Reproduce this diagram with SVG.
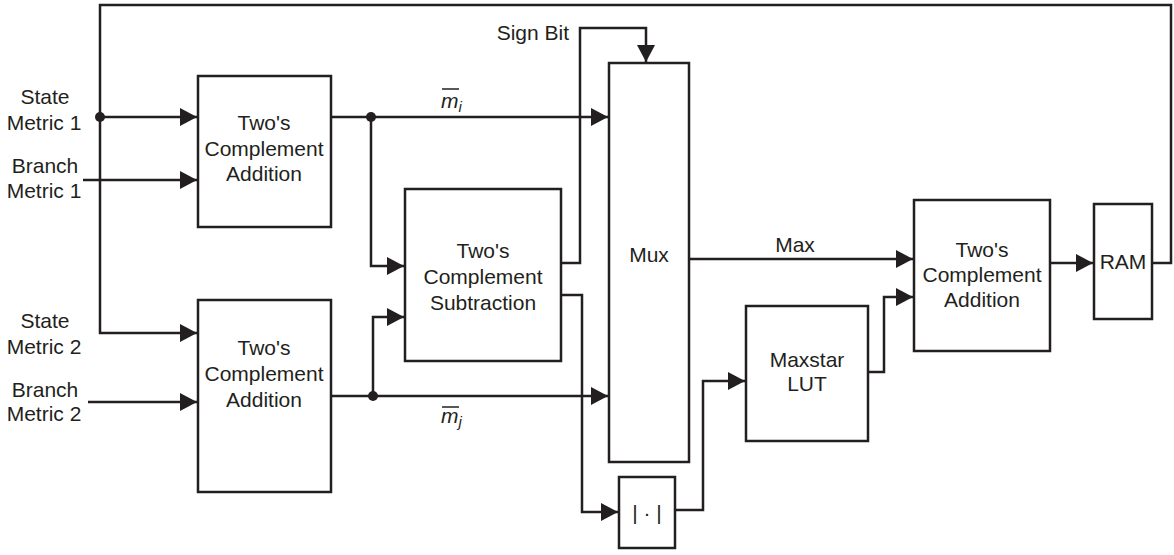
<svg xmlns="http://www.w3.org/2000/svg" width="1174" height="555" viewBox="0 0 1174 555">
<defs>
<style>
.box{fill:#fff;stroke:#231f20;stroke-width:2.5}
.w{fill:none;stroke:#231f20;stroke-width:2.5}
.arr{marker-end:url(#ah)}
text{font-family:"Liberation Sans",Arial,sans-serif;font-size:21px;fill:#231f20}
.c{text-anchor:middle}
.it{font-style:italic}
</style>
<marker id="ah" markerUnits="userSpaceOnUse" markerWidth="17" markerHeight="18" refX="17" refY="9" orient="auto">
<path d="M0,0 L17,9 L0,18 z" fill="#231f20"/>
</marker>
</defs>
<rect width="1174" height="555" fill="#fff"/>
<g id="connectors">
<polyline class="w" points="1152,263 1171,263 1171,5 100,5 100,333 197,333" marker-end="url(#ah)"/>
<line class="w arr" x1="100" y1="117" x2="197" y2="117"/>
<line class="w arr" x1="83" y1="180" x2="197" y2="180"/>
<line class="w arr" x1="88" y1="402" x2="197" y2="402"/>
<line class="w arr" x1="331" y1="117" x2="608" y2="117"/>
<polyline class="w arr" points="371,117 371,266 404,266"/>
<line class="w arr" x1="331" y1="396" x2="608" y2="396"/>
<polyline class="w arr" points="373,396 373,317 404,317"/>
<polyline class="w arr" points="561,263 580,263 580,28 646,28 646,62"/>
<polyline class="w arr" points="561,295 582,295 582,512 618,512"/>
<polyline class="w arr" points="675,510 703,510 703,381 745,381"/>
<line class="w arr" x1="689" y1="259" x2="913" y2="259"/>
<polyline class="w arr" points="868,372 884,372 884,297 913,297"/>
<line class="w arr" x1="1050" y1="263" x2="1093" y2="263"/>
<circle cx="100" cy="117" r="5" fill="#231f20"/>
<circle cx="371" cy="117" r="5" fill="#231f20"/>
<circle cx="373" cy="396" r="5" fill="#231f20"/>
</g>
<g id="labels">
<text class="c" x="45" y="104">State</text>
<text class="c" x="44" y="130">Metric 1</text>
<text class="c" x="45" y="173">Branch</text>
<text class="c" x="44" y="198">Metric 1</text>
<text class="c" x="45" y="328">State</text>
<text class="c" x="44" y="354">Metric 2</text>
<text class="c" x="45" y="397">Branch</text>
<text class="c" x="44" y="421">Metric 2</text>
<text x="569" y="40" text-anchor="end">Sign Bit</text>
<text class="c" x="795" y="252">Max</text>
<g id="mi">
<line x1="442" y1="89" x2="459" y2="89" stroke="#231f20" stroke-width="1.5"/>
<text class="it" x="441" y="108">m<tspan font-size="15" dy="4">i</tspan></text>
</g>
<g id="mj">
<line x1="442" y1="407" x2="459" y2="407" stroke="#231f20" stroke-width="1.5"/>
<text class="it" x="441" y="423">m<tspan font-size="15" dy="4">j</tspan></text>
</g>
</g>
<g id="adder1">
<rect class="box" x="198" y="76" width="133" height="151"/>
<text class="c" x="264" y="130">Two's</text>
<text class="c" x="264" y="156">Complement</text>
<text class="c" x="264" y="181">Addition</text>
</g>
<g id="adder2">
<rect class="box" x="198" y="300" width="133" height="192"/>
<text class="c" x="264" y="355">Two's</text>
<text class="c" x="264" y="381">Complement</text>
<text class="c" x="264" y="407">Addition</text>
</g>
<g id="subtractor">
<rect class="box" x="405" y="189" width="156" height="172"/>
<text class="c" x="483" y="258">Two's</text>
<text class="c" x="483" y="284">Complement</text>
<text class="c" x="483" y="310">Subtraction</text>
</g>
<g id="mux">
<rect class="box" x="609" y="63" width="80" height="399"/>
<text class="c" x="649" y="262">Mux</text>
</g>
<g id="abs">
<rect class="box" x="619" y="477" width="56" height="71"/>
<text class="c" x="647" y="520">| · |</text>
</g>
<g id="maxstar">
<rect class="box" x="746" y="306" width="122" height="135"/>
<text class="c" x="807" y="367">Maxstar</text>
<text class="c" x="807" y="391">LUT</text>
</g>
<g id="adder3">
<rect class="box" x="914" y="200" width="136" height="151"/>
<text class="c" x="982" y="257">Two's</text>
<text class="c" x="982" y="282">Complement</text>
<text class="c" x="982" y="307">Addition</text>
</g>
<g id="ram">
<rect class="box" x="1094" y="204" width="58" height="115"/>
<text class="c" x="1123" y="269">RAM</text>
</g>
</svg>
